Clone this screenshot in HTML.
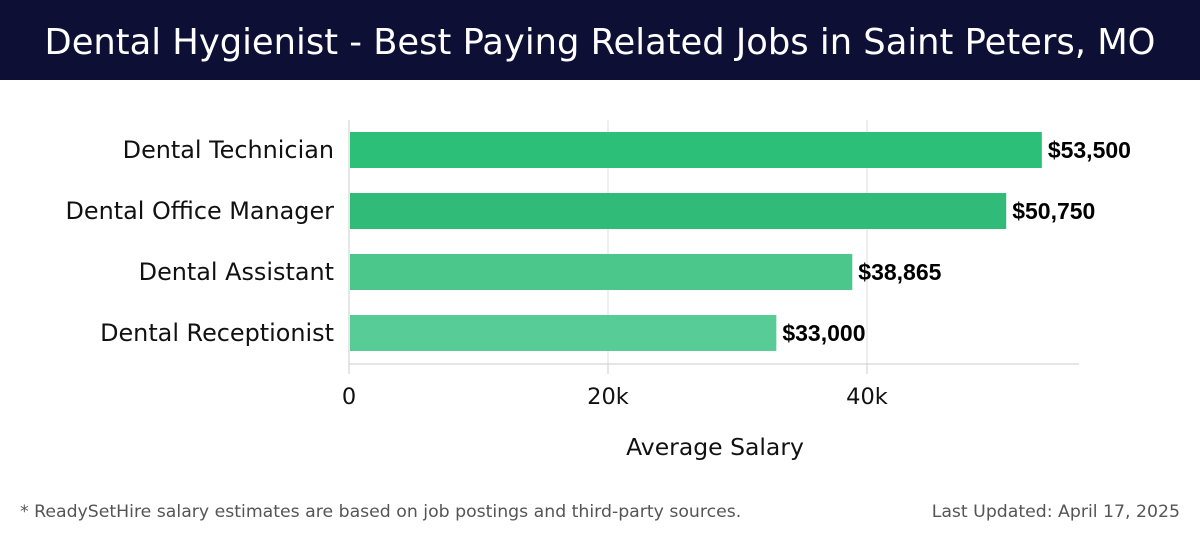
<!DOCTYPE html>
<html><head><meta charset="utf-8"><style>
body{margin:0;width:1200px;height:540px;background:#fff;font-family:"Liberation Sans",sans-serif;overflow:hidden}
#hdr{position:absolute;left:0;top:0;width:1200px;height:80px;background:#0e0f35;color:#fff;font-family:"DejaVu Sans",sans-serif;font-size:35.3px;text-align:center;line-height:86px;white-space:nowrap}
.foot{position:absolute;top:502px;font-size:17.3px;color:#555;font-family:"DejaVu Sans",sans-serif;white-space:nowrap}
</style></head><body>
<div id="hdr">Dental Hygienist - Best Paying Related Jobs in Saint Peters, MO</div>
<svg id="c" width="1200" height="540" style="position:absolute;left:0;top:0"></svg>
<div class="foot" style="left:20px">* ReadySetHire salary estimates are based on job postings and third-party sources.</div>
<div class="foot" style="right:20px">Last Updated: April 17, 2025</div>
<script>
const categories=["Dental Technician","Dental Office Manager","Dental Assistant","Dental Receptionist"];
const values=[53500,50750,38865,33000];
const valueLabels=["$53,500","$50,750","$38,865","$33,000"];
const ticks=[0,20000,40000];
const tickLabels=["0","20k","40k"];
const colors=["#2bbf77","#30bb78","#4cc78c","#57cc96"];
const svg=document.getElementById('c');const NS='http://www.w3.org/2000/svg';
const x0=349,pxPer=259/20000,top0=132,step=61,bh=36,axisY=364;
const X=v=>x0+v*pxPer;
function mk(t,a,p){const e=document.createElementNS(NS,t);for(const k in a)e.setAttribute(k,a[k]);(p||svg).appendChild(e);return e;}
ticks.forEach((t,i)=>{
 if(t>0){const g=mk('line',{x1:X(t),x2:X(t),y1:120,y2:axisY,stroke:'#ddd','stroke-width':1});
 
 }
 const tk=mk('line',{x1:X(t),x2:X(t),y1:axisY,y2:axisY+10,stroke:'#ccc'});
 
 
 const tl=mk('text',{x:X(t),y:404,'text-anchor':'middle','font-size':22.5,fill:'#111','font-family':'DejaVu Sans'});tl.textContent=tickLabels[i];
 
 
});
const ax=mk('line',{x1:x0,x2:1079,y1:axisY,y2:axisY,stroke:'#ccc'});


const ay=mk('line',{x1:x0,x2:x0,y1:120,y2:axisY,stroke:'#ccc'});


categories.forEach((c,i)=>{
 const y=top0+i*step;
 const r=mk('rect',{x:x0+1,y:y,width:X(values[i])-x0-1,height:bh,fill:colors[i]});
 
 
 const l=mk('text',{x:334,y:y+bh/2+8,'text-anchor':'end','font-size':23.9,fill:'#111','font-family':'DejaVu Sans'});l.textContent=c;
 
 
 const v=mk('text',{x:X(values[i])+6,y:y+bh/2+8,'font-size':23,'font-weight':'bold',fill:'#000'});v.textContent=valueLabels[i];
 
 
});
const xt=mk('text',{x:715,y:455,'text-anchor':'middle','font-size':23.5,fill:'#111','font-family':'DejaVu Sans'});xt.textContent='Average Salary';


</script>
</body></html>
